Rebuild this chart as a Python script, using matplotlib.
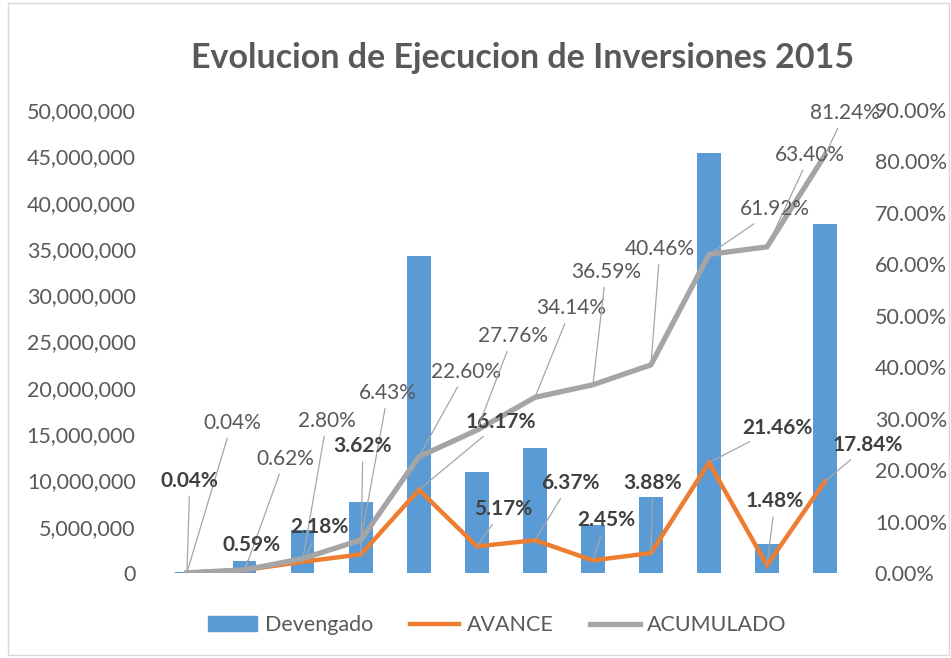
import matplotlib
matplotlib.use('Agg')
import matplotlib.pyplot as plt
from matplotlib.patches import Rectangle
from matplotlib.lines import Line2D
from matplotlib.ticker import FuncFormatter
import numpy as np

# data
meses = ['Ene', 'Feb', 'Mar', 'Abr', 'May', 'Jun', 'Jul', 'Ago', 'Set', 'Oct', 'Nov', 'Dic']
devengado = [85000, 1250000, 4610000, 7660000, 34200000, 10930000,
             13470000, 5180000, 8210000, 45390000, 3130000, 37730000]
avance = [0.04, 0.59, 2.18, 3.62, 16.17, 5.17, 6.37, 2.45, 3.88, 21.46, 1.48, 17.84]
acumulado = [0.04, 0.62, 2.80, 6.43, 22.60, 27.76, 34.14, 36.59, 40.46, 61.92, 63.40, 81.24]

# label offsets (pixels) from each point
off_acum = [(45, 150), (40, 111), (24, 138), (27, 147), (47, 85), (36, 94),
            (36, 89), (13, 113), (9, 116), (66, 45), (43, 92), (20, 42)]
off_avan = [(3, 92), (7, 25), (17, 35), (2, 108), (82, 68), (26, 37),
            (35, 57), (13, 40), (2, 70), (68, 35), (8, 64), (43, 36)]

BLUE = '#5B9BD5'
ORANGE = '#ED7D31'
GRAY = '#A5A5A5'
TXT = '#595959'
BOLD_TXT = '#404040'

plt.rcParams['font.family'] = ['Lato', 'DejaVu Sans']

fig = plt.figure(figsize=(9.51, 6.58), dpi=100)
fig.patches.append(Rectangle((0.008, 0.004), 0.99, 0.992, transform=fig.transFigure,
                             fill=False, edgecolor='#D9D9D9', lw=1))

ax = fig.add_axes([0.166, 0.1292, 0.732, 0.7036])
x = np.arange(len(meses))
ax.bar(x, devengado, width=0.4, color=BLUE, zorder=1)
ax.set_xlim(-0.5, len(meses) - 0.5)
ax.set_ylim(0, 50000000)
ax.set_yticks(np.arange(0, 50000001, 5000000))
ax.yaxis.set_major_formatter(FuncFormatter(lambda v, p: f'{int(v):,}'))
ax.set_xticks([])
ax.tick_params(axis='y', length=0, pad=16, labelsize=15.5, labelcolor=TXT)
for s in ax.spines.values():
    s.set_visible(False)

ax2 = ax.twinx()
ax2.set_ylim(0, 90)
ax2.set_yticks(np.arange(0, 91, 10))
ax2.yaxis.set_major_formatter(FuncFormatter(lambda v, p: f'{v:.2f}%'))
ax2.tick_params(axis='y', length=0, pad=15, labelsize=15.5, labelcolor=TXT)
for s in ax2.spines.values():
    s.set_visible(False)

ax2.plot(x, avance, color=ORANGE, lw=3.2, zorder=3, solid_joinstyle='miter')
ax2.plot(x, acumulado, color=GRAY, lw=3.8, zorder=4, solid_joinstyle='miter')

leader = dict(arrowstyle='-', color='#A6A6A6', lw=0.9, shrinkA=2, shrinkB=0)
for i in range(len(meses)):
    dx, dy = off_acum[i]
    ax2.annotate(f'{acumulado[i]:.2f}%', (x[i], acumulado[i]), xytext=(dx, dy),
                 textcoords='offset pixels', ha='center', va='center',
                 fontsize=15, color=TXT, arrowprops=leader, zorder=5,
                 annotation_clip=False)
    dx, dy = off_avan[i]
    ax2.annotate(f'{avance[i]:.2f}%', (x[i], avance[i]), xytext=(dx, dy),
                 textcoords='offset pixels', ha='center', va='center',
                 fontsize=15, fontweight='bold', color=BOLD_TXT, arrowprops=leader,
                 zorder=5, annotation_clip=False)

fig.text(0.55, 0.912, 'Evolucion de Ejecucion de Inversiones 2015', ha='center',
         va='center', fontsize=24.5, fontweight='bold', color=TXT)

handles = [Rectangle((0, 0), 1, 1, color=BLUE),
           Line2D([], [], color=ORANGE, lw=3.2),
           Line2D([], [], color=GRAY, lw=3.8)]
fig.legend(handles, ['Devengado', 'AVANCE', 'ACUMULADO'], loc='center',
           bbox_to_anchor=(0.523, 0.05), ncol=3, frameon=False, fontsize=15.5,
           labelcolor=TXT, handlelength=2.3, columnspacing=1.7, handletextpad=0.35)

fig.savefig('out.png', dpi=100)
